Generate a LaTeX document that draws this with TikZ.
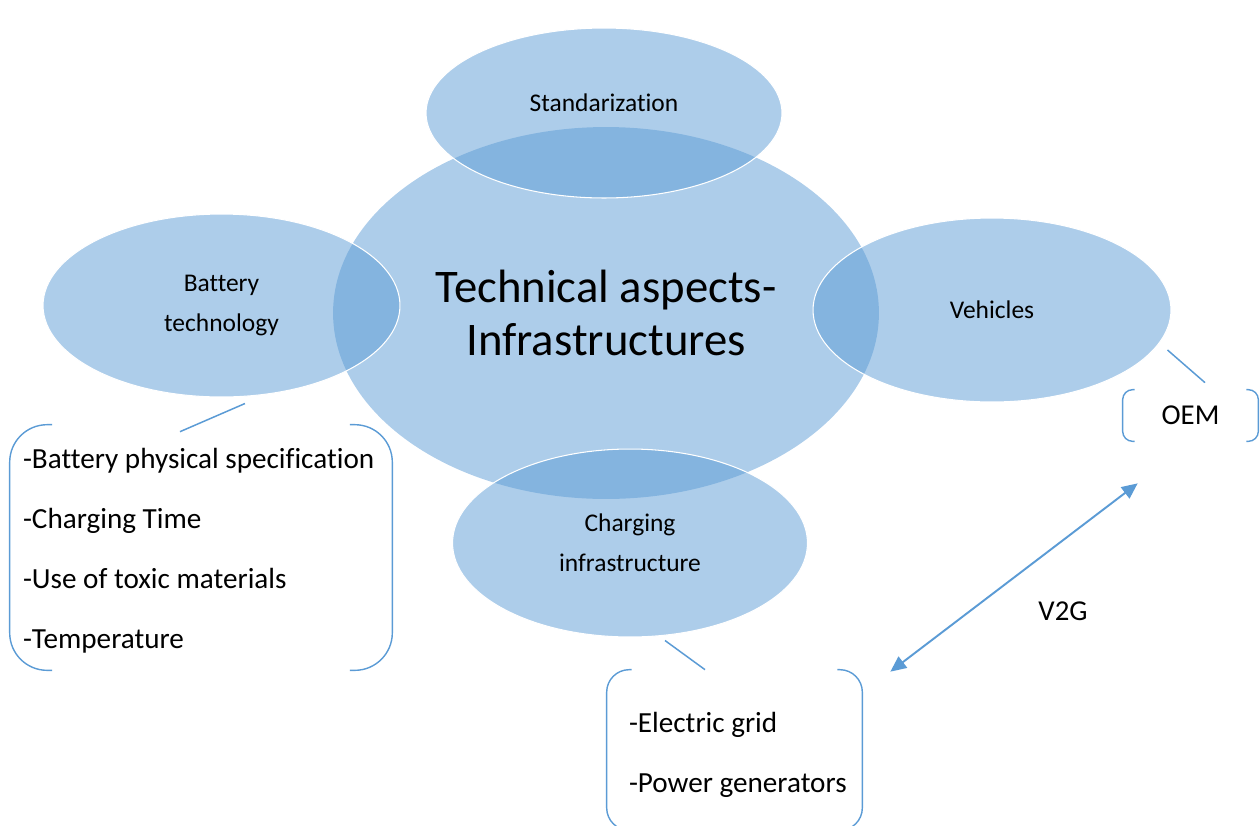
\documentclass[tikz,border=0pt]{standalone}
\usepackage{fontspec}
\setmainfont{Carlito}[Ligatures=NoCommon]
\usetikzlibrary{shapes.geometric}
\usetikzlibrary{arrows.meta}
\definecolor{ellblue}{HTML}{5B9BD5}

\newcommand{\sidebrackets}[3]{%
  \draw[bracket, rounded corners=#3] ([xshift=#2]#1.north west) -- (#1.north west) -- (#1.south west) -- ([xshift=#2]#1.south west);
  \draw[bracket, rounded corners=#3] ([xshift=-#2]#1.north east) -- (#1.north east) -- (#1.south east) -- ([xshift=-#2]#1.south east);
}

\begin{document}
\begin{tikzpicture}[x=0.02cm, y=-0.02cm,
    bubble/.style={ellipse, fill=ellblue, fill opacity=.5, text opacity=1, draw=white, line width=0.6pt,
      inner sep=0pt, align=center, font=\fontsize{14.5}{22.7}\selectfont},
    hub/.style={bubble, draw=none, font=\fontsize{26.6}{30.1}\selectfont},
    boxfrm/.style={inner sep=0pt, font=\fontsize{16.4}{20}\selectfont},
    listtext/.style={inner sep=0pt, align=left, font=\fontsize{16.6}{34.2}\selectfont},
    bracket/.style={draw=ellblue, line width=0.8pt},
    link/.style={draw=ellblue, line width=0.85pt},
    v2g/.style={draw=ellblue, line width=1.1pt, {Triangle[length=9pt,width=8pt]}-{Triangle[length=9pt,width=8pt]}}]

  \path[use as bounding box] (0,0) rectangle (1260,825);
  \clip (0,0) rectangle (1260,825);

  % bubbles
  \node[hub, minimum width=10.92cm, minimum height=7.44cm] (hub) at (606,313) {Technical aspects-\\Infrastructures};
  \node[bubble, minimum width=7.12cm, minimum height=3.4cm, text depth=0.4cm] (std) at (604,113) {Standarization};
  \node[bubble, minimum width=7.14cm, minimum height=3.66cm] (batt) at (221.5,305.5) {Battery\\technology};
  \node[bubble, minimum width=7.16cm, minimum height=3.68cm] (veh) at (992,310) {Vehicles};
  \node[bubble, minimum width=7.1cm, minimum height=3.76cm] (chg) at (630,543) {Charging\\infrastructure};

  % lists
  \node[boxfrm, minimum width=7.64cm, minimum height=4.9cm] (battbox) at (201,547.5) {};
  \node[listtext, anchor=west] (battlist) at ([shift={(13,3.5)}]battbox.west)
    {-Battery physical specification\\-Charging Time\\-Use of toxic materials\\-Temperature};
  \sidebrackets{battbox}{0.85cm}{0.75cm}

  \node[boxfrm, minimum width=5.1cm, minimum height=3.2cm] (gridbox) at (734.5,750) {};
  \node[listtext, anchor=west] (gridlist) at ([shift={(22,4.5)}]gridbox.west)
    {-Electric grid\\-Power generators};
  \sidebrackets{gridbox}{0.5cm}{0.45cm}

  \node[boxfrm, minimum width=2.7cm, minimum height=1.02cm] (oem) at (1190.5,415.5) {OEM};
  \sidebrackets{oem}{0.24cm}{0.2cm}

  \node[boxfrm] (v2glabel) at (1063,611) {V2G};

  % links
  \coordinate (b1) at ([shift={(23.5,6)}]batt.south);
  \coordinate (b2) at ([shift={(-21,7)}]battbox.north);
  \coordinate (v1) at ([shift={(-4,40)}]veh.east);
  \coordinate (v2) at ([shift={(14.5,-7)}]oem.north);
  \coordinate (c1) at ([shift={(35,3)}]chg.south);
  \coordinate (c2) at ([shift={(-29.5,0)}]gridbox.north);
  \coordinate (g1) at ([shift={(28,2)}]gridbox.north east);
  \coordinate (o1) at ([shift={(15,42)}]oem.south west);
  \draw[link] (b1) -- (b2);
  \draw[link] (v1) -- (v2);
  \draw[link] (c1) -- (c2);
  \draw[v2g] (g1) -- (o1);
\end{tikzpicture}
\end{document}
